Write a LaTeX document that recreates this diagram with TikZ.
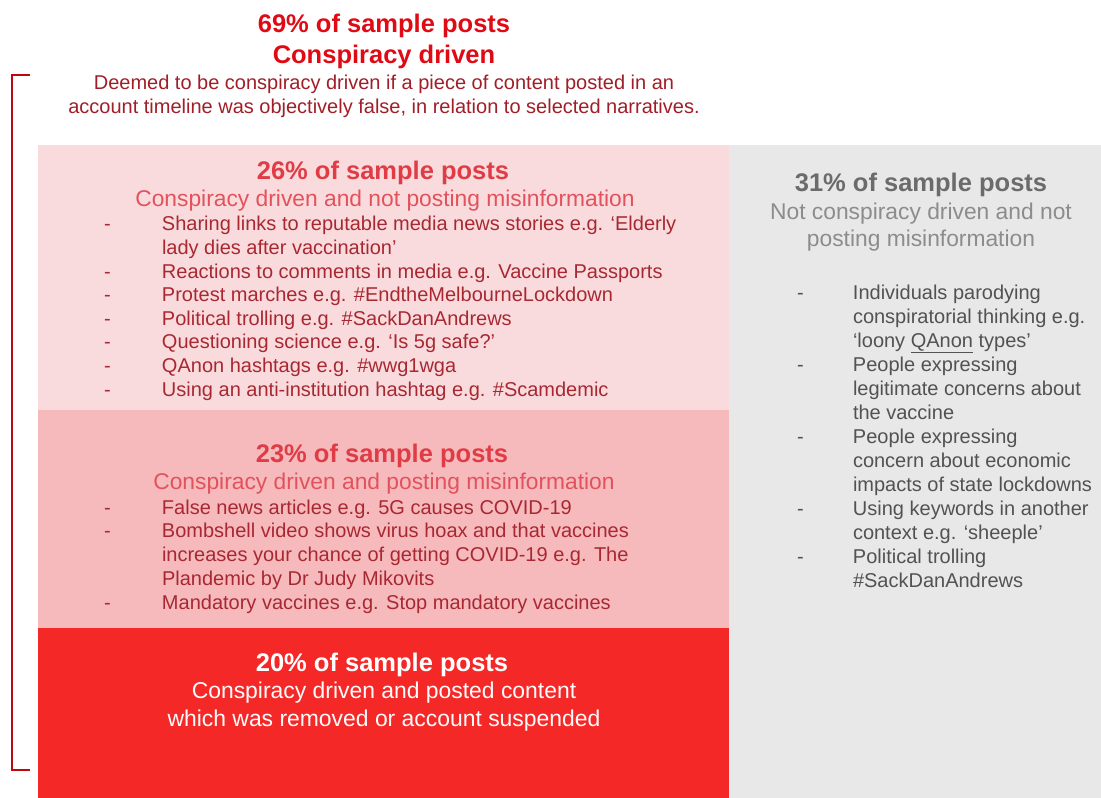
\documentclass[tikz,border=0pt]{standalone}
\usepackage{fontspec}
\setmainfont{Liberation Sans}
\usetikzlibrary{positioning}
\definecolor{topred}{HTML}{E00A14}
\definecolor{darkred}{HTML}{A01E28}
\definecolor{midred}{HTML}{E03C46}
\definecolor{subred}{HTML}{E2525C}
\definecolor{listred}{HTML}{A82832}
\definecolor{pinkA}{HTML}{FADBDD}
\definecolor{pinkB}{HTML}{F6BABD}
\definecolor{boxred}{HTML}{F52828}
\definecolor{boxgray}{HTML}{E8E8E8}
\newcommand{\dsh}[1][58pt]{\makebox[#1][l]{-}}
\newcommand{\ind}[1][58pt]{\hspace*{#1}}

\begin{document}
\begin{tikzpicture}[x=1pt,y=-1pt,
  every node/.style={inner sep=0pt,outer sep=0pt},
  head/.style={font=\fontsize{25.5}{31}\bfseries\selectfont,align=center,anchor=base},
  sub/.style={font=\fontsize{22.8}{27}\selectfont,align=center,anchor=base},
  lst/.style={font=\fontsize{20}{23.6}\selectfont,align=left,anchor=base west},
  brk/.style={draw=topred!85!black,line width=1.6pt}]
  \useasboundingbox (0,0) rectangle (1101,798);
  % blocks
  \fill[pinkA]   (38,145)  rectangle (729,410);
  \fill[pinkB]   (38,410)  rectangle (729,628);
  \fill[boxred]  (38,628)  rectangle (729,798);
  \fill[boxgray] (729,145) rectangle (1101,798);
  % bracket
  \coordinate (btop) at (30,75);
  \coordinate (bbot) at (30,770);
  \draw[brk] (btop) -- ++(-18,0) |- (bbot);

  % 69% (multi-line nodes sit on their last baseline)
  \node[head,text=topred] (all) at (384,63) {69\% of sample posts\\Conspiracy driven};
  \node[font=\fontsize{20}{24}\selectfont,align=center,anchor=base,text=darkred] (alldef) at (384,113)
    {Deemed to be conspiracy driven if a piece of content posted in an\\
     account timeline was objectively false, in relation to selected narratives.};

  % 26%
  \node[head,text=midred] (nomis) at (383,179) {26\% of sample posts};
  \node[sub,text=subred] (nomissub) at (385,206) {Conspiracy driven and not posting misinformation};
  \node[lst,text=listred] (nomislist) at (104,396) {%
    \dsh Sharing links to reputable media news stories e.g. `Elderly\\
    \ind lady dies after vaccination'\\
    \dsh Reactions to comments in media e.g. Vaccine Passports\\
    \dsh Protest marches e.g. \#EndtheMelbourneLockdown\\
    \dsh Political trolling e.g. \#SackDanAndrews\\
    \dsh Questioning science e.g. `Is 5g safe?'\\
    \dsh QAnon hashtags e.g. \#wwg1wga\\
    \dsh Using an anti-institution hashtag e.g. \#Scamdemic};

  % 23%
  \node[head,text=midred] (mis) at (382,462) {23\% of sample posts};
  \node[sub,text=subred] (missub) at (384,489) {Conspiracy driven and posting misinformation};
  \node[lst,font=\fontsize{20}{23.75}\selectfont,text=listred] (mislist) at (104,609) {%
    \dsh False news articles e.g. 5G causes COVID-19\\
    \dsh Bombshell video shows virus hoax and that vaccines\\
    \ind increases your chance of getting COVID-19 e.g. The\\
    \ind Plandemic by Dr Judy Mikovits\\
    \dsh Mandatory vaccines e.g. Stop mandatory vaccines};

  % 20%
  \node[head,text=white] (rem) at (382,671) {20\% of sample posts};
  \node[font=\fontsize{22.9}{28}\selectfont,align=center,anchor=base,text=white!94!pink] (remsub) at (384,726)
    {Conspiracy driven and posted content\\which was removed or account suspended};

  % 31%
  \node[head,text=black!58] (notc) at (921,191) {31\% of sample posts};
  \node[sub,text=black!45] (notcsub) at (921,246) {Not conspiracy driven and not\\posting misinformation};
  \node[lst,font=\fontsize{20}{24}\selectfont,text=black!68] (notclist) at (797,587) {%
    \dsh[56pt]Individuals parodying\\
    \ind[56pt]conspiratorial thinking e.g.\\
    \ind[56pt]`loony \underline{QAnon} types'\\
    \dsh[56pt]People expressing\\
    \ind[56pt]legitimate concerns about\\
    \ind[56pt]the vaccine\\
    \dsh[56pt]People expressing\\
    \ind[56pt]concern about economic\\
    \ind[56pt]impacts of state lockdowns\\
    \dsh[56pt]Using keywords in another\\
    \ind[56pt]context e.g. `sheeple'\\
    \dsh[56pt]Political trolling\\
    \ind[56pt]\#SackDanAndrews};
\end{tikzpicture}
\end{document}
